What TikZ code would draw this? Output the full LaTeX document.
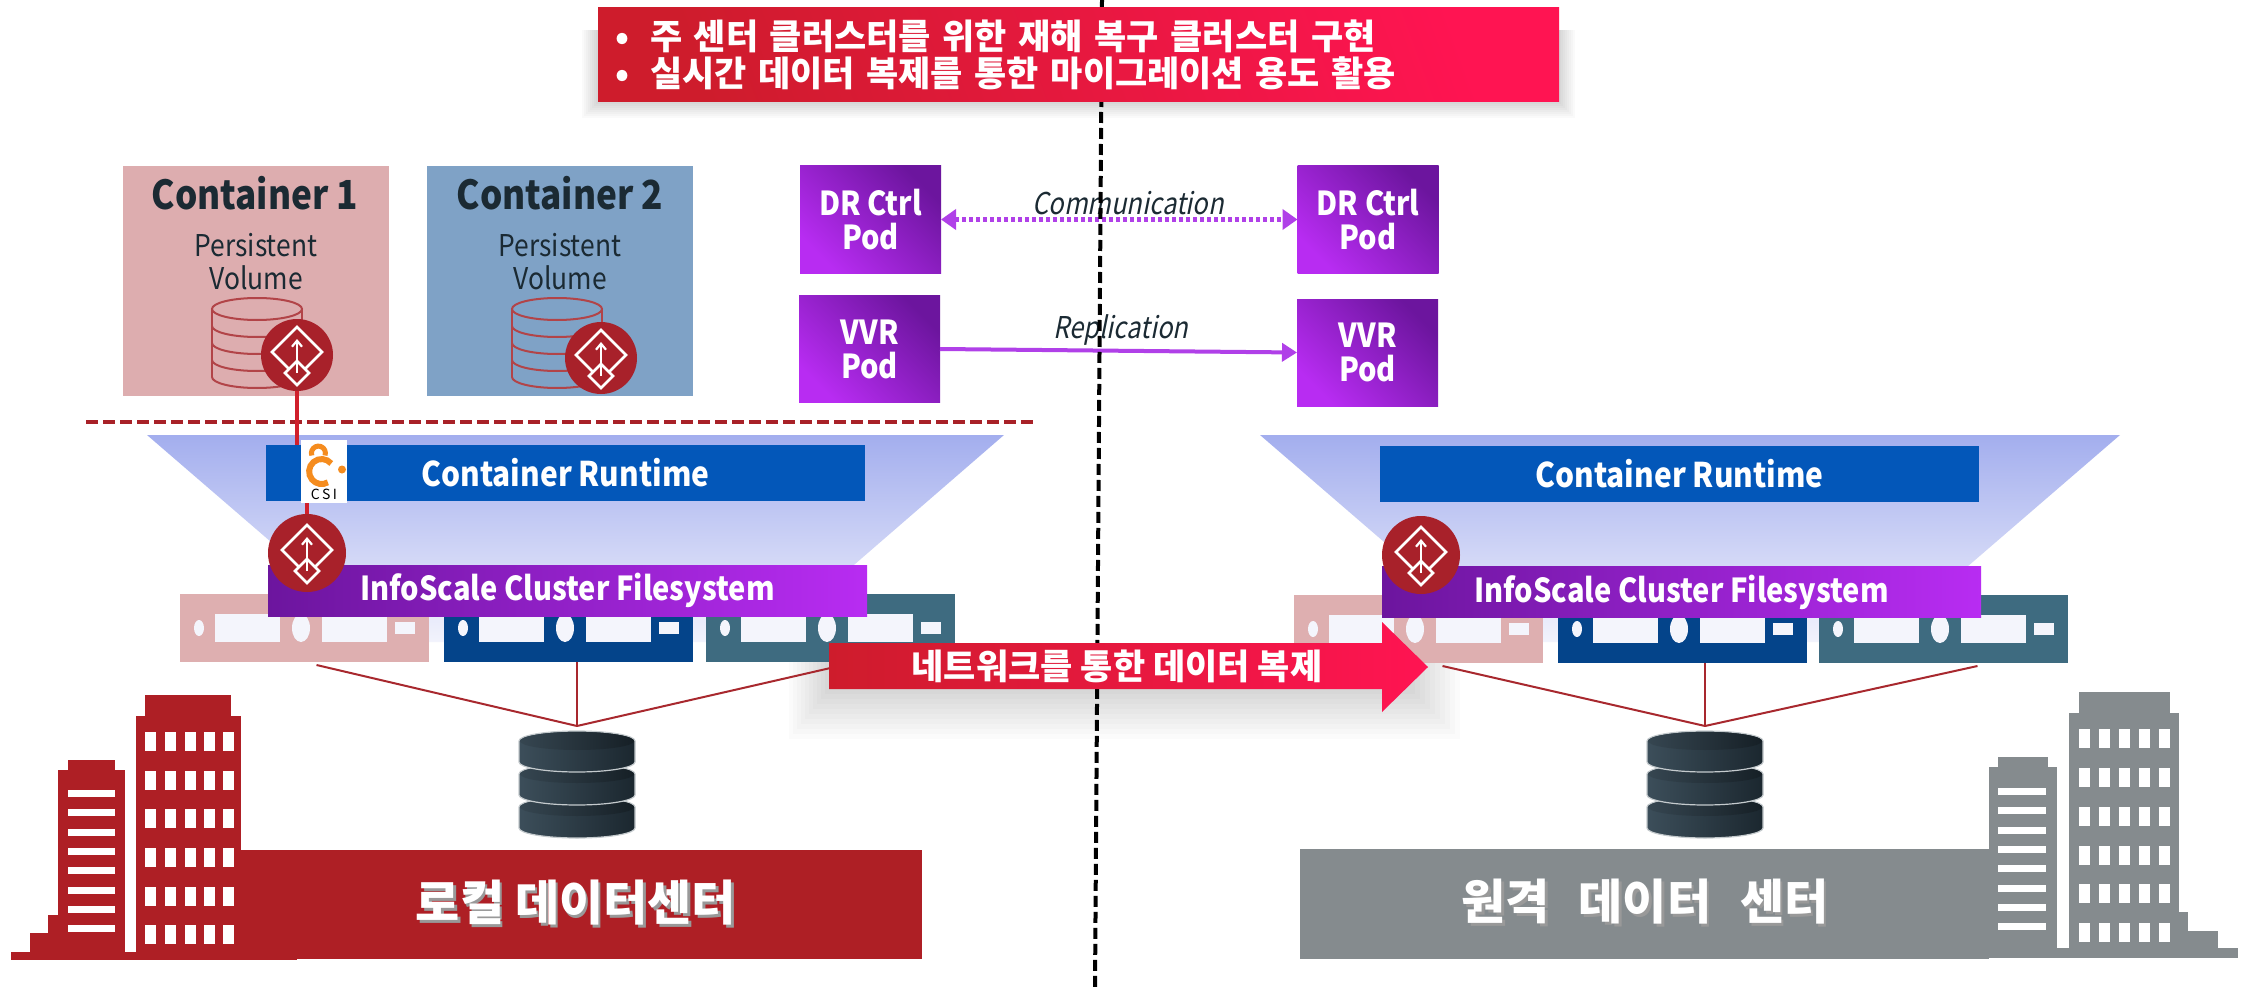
\documentclass[tikz,border=0pt]{standalone}
\usepackage{fontspec}
\setmainfont{Noto Sans CJK KR}
\newfontfamily\latinfont{Noto Sans CJK KR}[FakeStretch=0.88]
\newfontfamily\slantfont{Noto Sans CJK KR}[FakeSlant=0.2, FakeStretch=0.85]
\usetikzlibrary{arrows.meta,calc}

\definecolor{bannerA}{RGB}{255,20,82}
\definecolor{bannerB}{RGB}{206,28,44}
\definecolor{podDark}{RGB}{108,21,158}
\definecolor{podLight}{RGB}{184,44,242}
\definecolor{runtimeBlue}{RGB}{3,87,185}
\definecolor{cOneFill}{RGB}{221,173,175}
\definecolor{cTwoFill}{RGB}{127,162,198}
\definecolor{titleInk}{RGB}{27,42,51}
\definecolor{badgeRed}{RGB}{168,33,42}
\definecolor{linkRed}{RGB}{208,32,44}
\definecolor{dashRed}{RGB}{168,33,40}
\definecolor{wireRed}{RGB}{168,40,46}
\definecolor{cylRed}{RGB}{178,68,72}
\definecolor{srvPink}{RGB}{222,175,176}
\definecolor{srvBlue}{RGB}{4,68,138}
\definecolor{srvTeal}{RGB}{62,107,128}
\definecolor{siteRed}{RGB}{174,31,37}
\definecolor{siteGrey}{RGB}{133,139,142}
\definecolor{funnelTop}{RGB}{163,174,238}
\definecolor{funnelBot}{RGB}{242,243,252}
\definecolor{dbLight}{RGB}{60,78,90}
\definecolor{dbDark}{RGB}{27,39,47}
\definecolor{arrowPurple}{RGB}{176,64,232}
\definecolor{csiOrange}{RGB}{245,140,30}
\definecolor{faceWhite}{RGB}{244,245,252}

\tikzset{
  plain/.style={rectangle, inner sep=0pt, outer sep=0pt},
  container/.style={plain, minimum width=266, minimum height=230, fill=#1},
  ctitle/.style={text=titleInk, font=\latinfont\fontsize{40}{44}\selectfont\bfseries},
  csub/.style={text=titleInk, align=center, font=\latinfont\fontsize{30}{33}\selectfont},
  badge/.style={circle, fill=badgeRed, inner sep=0pt, outer sep=0pt, minimum size=#1},
  podbox/.style={plain, minimum width=141, minimum height=107, top color=podDark,
    bottom color=podLight, shading angle=-45, text=white, align=center,
    font=\latinfont\fontsize{33}{34}\selectfont\bfseries},
  runtimebar/.style={plain, minimum width=599, minimum height=56, fill=runtimeBlue,
    text=white, font=\latinfont\fontsize{34}{36}\selectfont\bfseries},
  fsbar/.style={plain, minimum width=599, minimum height=51, left color=podDark,
    right color=podLight, text=white, font=\latinfont\fontsize{33}{36}\selectfont\bfseries},
  server/.style={plain, minimum width=249, minimum height=68, fill=#1},
  dbspot/.style={plain, minimum width=116, minimum height=116},
  wire/.style={wireRed, line width=2},
  csilink/.style={linkRed, line width=4},
  flowlabel/.style={text=titleInk, font=\slantfont\fontsize{30}{33}\selectfont},
  sitebar/.style={plain, fill=#1},
  sitetext/.style={text=white, font=\fontsize{48}{52}\selectfont\bfseries},
  siteshadow/.style={text=black!40, font=\fontsize{48}{52}\selectfont\bfseries},
  drmark/.pic={
    \draw[white, line width=2.6, line join=miter] (0,-28) -- (25,-3) -- (0,22) -- (-25,-3) -- cycle;
    \draw[white, line width=2.6, fill=badgeRed] (0,6) -- (12,18) -- (0,30) -- (-12,18) -- cycle;
    \draw[white, line width=2.2, -{Straight Barb[length=6,width=10]}] (0,18) -- (0,-16);
  },
  pvcyl/.pic={
    \draw[cylRed, line width=2] (0,0) ellipse [x radius=45, y radius=11];
    \draw[cylRed, line width=2] (-45,0) -- (-45,68) (45,0) -- (45,68);
    \foreach \d in {17,34,51,68}
      \draw[cylRed, line width=2] (-45,\d) arc[start angle=180, end angle=0, x radius=45, y radius=11];
  },
  serverface/.pic={
    \fill[faceWhite] (19,0) ellipse[x radius=5, y radius=8];
    \fill[faceWhite] (35,-14) rectangle (100,14);
    \fill[faceWhite] (121,0) ellipse[x radius=9, y radius=14];
    \fill[faceWhite] (142,-14) rectangle (207,14);
    \fill[faceWhite] (215,-6) rectangle (235,6);
  },
  dbstack/.pic={
    \foreach \t in {23,-10,-43}{
      \shade[left color=dbLight, right color=dbDark, draw=white!70!dbLight, line width=1.2]
        (-58,\t) -- (-58,\t+21) arc[start angle=180, end angle=0, x radius=58, y radius=10]
        -- (58,\t) arc[start angle=0, end angle=-180, x radius=58, y radius=10] -- cycle;
      \shade[left color=dbLight!90!black, right color=dbDark!80!black]
        (0,\t) ellipse[x radius=57, y radius=9];
    }
  },
}

\begin{document}
\begin{tikzpicture}[x=1pt, y=-1pt]
\useasboundingbox (0,0) rectangle (2249,987);
\fill[white] (0,0) rectangle (2249,987);

% soft shadows under the banner and the network arrow
\foreach \k in {1,...,8}
  \fill[black, opacity=0.018] (598-2*\k,30) rectangle (1559+2*\k,102+2*\k);
\foreach \k in {1,...,10}
  \fill[black, opacity=0.016] (829-4*\k,660) rectangle (1410+5*\k,689+5*\k);

% funnels behind each cluster
\shade[top color=funnelTop, bottom color=funnelBot] (147,435) -- (1004,435) -- (765,642) -- (387,642) -- cycle;
\shade[top color=funnelTop, bottom color=funnelBot] (1260,435) -- (2120,435) -- (1880,642) -- (1500,642) -- cycle;

% containers with persistent volumes
\node[container=cOneFill] (c1) at (256,281) {};
\node[container=cTwoFill] (c2) at (560,281) {};
\node[ctitle] (c1t) at (255,193) {Container 1};
\node[ctitle] (c2t) at (560,193) {Container 2};
\node[csub] (c1s) at (256,262) {Persistent\\Volume};
\node[csub] (c2s) at (560,262) {Persistent\\Volume};
\pic at (257,309) {pvcyl};
\pic at (557,309) {pvcyl};
\node[badge=72] (bc1) at (297,355) {};
\node[badge=72] (bc2) at (601,358) {};
\pic at (bc1.center) {drmark};
\pic at (bc2.center) {drmark};

% boundary between containers and the host layer
\draw[dashRed, line width=4, dash pattern=on 12 off 5] (86,422) -- (1035,422);

% local cluster stack
\node[runtimebar] (crt) at (565.5,473) {Container Runtime};
\node[server=srvPink] (sv1) at (304.5,628) {};
\node[server=srvBlue] (sv2) at (568.5,628) {};
\node[server=srvTeal] (sv3) at (830.5,628) {};
\pic at (sv1.west) {serverface};
\pic at (sv2.west) {serverface};
\pic at (sv3.west) {serverface};
\node[fsbar] (ifs) at (567.5,590.5) {InfoScale Cluster Filesystem};
\node[dbspot] (db) at (577,784) {};
\pic at (db.center) {dbstack};
\draw[wire] ($(sv1.south)+(12,3)$) -- (db.north);
\draw[wire] (db.north |- sv2.south) -- (db.north);
\draw[wire] ($(sv3.south)+(0,6)$) -- (db.north);

% CSI link from the volume down to the filesystem
\node[badge=78] (b2) at (307,553) {};
\pic at (b2.center) {drmark};
\node[plain, fill=white, minimum width=46, minimum height=63] (csi) at (324,471.5) {};
\draw[csilink] (bc1.south) -- (bc1.south |- crt.north);
\draw[csilink] (csi.south -| b2.north) -- (b2.north);
\begin{scope}[shift={(csi.center)}]
  \draw[csiOrange, line width=6] (7.2,-8) arc[start angle=-40, end angle=-300, radius=12.5];
  \draw[csiOrange, line width=5] (1,-16) arc[start angle=20, end angle=-200, radius=7];
  \fill[csiOrange] (18,-2) circle[radius=4];
  \node[text=black, font=\fontsize{14}{15}\selectfont] (csit) at (0,23) {C\,S\,I};
\end{scope}

% remote cluster stack
\node[runtimebar] (crtR) at (1679.5,474) {Container Runtime};
\node[server=srvPink] (sr1) at (1418.5,629) {};
\node[server=srvBlue] (sr2) at (1682.5,629) {};
\node[server=srvTeal] (sr3) at (1943.5,629) {};
\pic at (sr1.west) {serverface};
\pic at (sr2.west) {serverface};
\pic at (sr3.west) {serverface};
\node[fsbar] (ifsR) at (1681.5,592) {InfoScale Cluster Filesystem};
\node[badge=78] (bR) at (1421,555) {};
\pic at (bR.center) {drmark};
\node[dbspot] (dbR) at (1705,784) {};
\pic at (dbR.center) {dbstack};
\draw[wire] ($(sr1.south)+(24,3)$) -- (dbR.north);
\draw[wire] (dbR.north |- sr2.south) -- (dbR.north);
\draw[wire] ($(sr3.south)+(34,3)$) -- (dbR.north);

% DR control and replication pods
\node[podbox] (drl) at (870.5,219.5) {DR Ctrl\\Pod};
\node[podbox] (vvrl) at (869.5,349) {VVR\\Pod};
\node[podbox] (drr) at (1368,219.5) {DR Ctrl\\Pod};
\node[podbox] (vvrr) at (1367.5,352.5) {VVR\\Pod};
\draw[arrowPurple, line width=4.5, dash pattern=on 4 off 3,
  {Triangle[length=15,width=20]}-{Triangle[length=15,width=20]}] (drl.east) -- (drr.west);
\draw[arrowPurple, line width=4, -{Triangle[length=15,width=18]}] (vvrl.east) -- (vvrr.west);
\node[flowlabel] (comm) at (1128,203) {Communication};
\node[flowlabel] (repl) at (1121,330) {Replication};

% site divider
\draw[black, line width=4, dash pattern=on 11 off 5] (1102,0) -- (1095,987);

% headline banner
\node[plain, top color=bannerA, bottom color=bannerB, shading angle=-70,
  text width=927, inner xsep=17, minimum height=94, align=left, text=white,
  font=\fontsize{35}{37}\selectfont\bfseries] (head) at (1078.5,55)
  {\makebox[35pt][l]{•}주 센터 클러스터를 위한 재해 복구 클러스터 구현\\
   \makebox[35pt][l]{•}실시간 데이터 복제를 통한 마이그레이션 용도 활용};

% network replication arrow
\shade[left color=bannerB, right color=bannerA]
  (829,643) -- (1382,643) -- (1382,622) -- (1428,667) -- (1382,712) -- (1382,689) -- (829,689) -- cycle;
\node[text=white, font=\fontsize{35}{38}\selectfont\bfseries] (netl) at (1117,666) {네트워크를 통한 데이터 복제};

% local site building
\fill[siteRed] (145,695) rectangle (231,716);
\fill[siteRed] (136,716) rectangle (241,960);
\fill[siteRed] (68,760) rectangle (115,770);
\fill[siteRed] (58,770) rectangle (125,960);
\fill[siteRed] (48,915) rectangle (58,960);
\fill[siteRed] (30,933) rectangle (48,960);
\fill[siteRed] (11,952) rectangle (297,960);
\foreach \cx in {145,165,185,204,223}
  \foreach \ry in {732,771,809,848,887,925}
    \fill[white] (\cx,\ry) rectangle ++(11,19);
\foreach \k in {0,...,7}
  \fill[white] (68,790+19.3*\k) rectangle ++(47,7);
\node[sitebar=siteRed, minimum width=681, minimum height=109] (sitel) at (581.5,904.5) {};
\node[siteshadow] (sitelsh) at (578.5,905.5) {로컬 데이터센터};
\node[sitetext] (sitelt) at (576,903) {로컬 데이터센터};

% remote site building
\fill[siteGrey] (2079,692) rectangle (2170,713);
\fill[siteGrey] (2069,713) rectangle (2179,958);
\fill[siteGrey] (1998,757) rectangle (2048,767);
\fill[siteGrey] (1989,767) rectangle (2057,958);
\fill[siteGrey] (2179,912) rectangle (2188,958);
\fill[siteGrey] (2188,931) rectangle (2218,958);
\fill[siteGrey] (2218,949) rectangle (2238,958);
\fill[siteGrey] (1989,948) rectangle (2238,958);
\foreach \cx in {2079,2099,2119,2139,2159}
  \foreach \ry in {729,768,807,846,884,923}
    \fill[white] (\cx,\ry) rectangle ++(11,19);
\foreach \k in {0,...,7}
  \fill[white] (1998,788+19.3*\k) rectangle ++(48,7);
\node[sitebar=siteGrey, minimum width=689, minimum height=110] (siter) at (1644.5,904) {};
\node[siteshadow] (sitersh) at (1647.5,904.5) {원격\hspace{0.6em}데이터\hspace{0.6em}센터};
\node[sitetext] (sitert) at (1645,902) {원격\hspace{0.6em}데이터\hspace{0.6em}센터};
\end{tikzpicture}
\end{document}
